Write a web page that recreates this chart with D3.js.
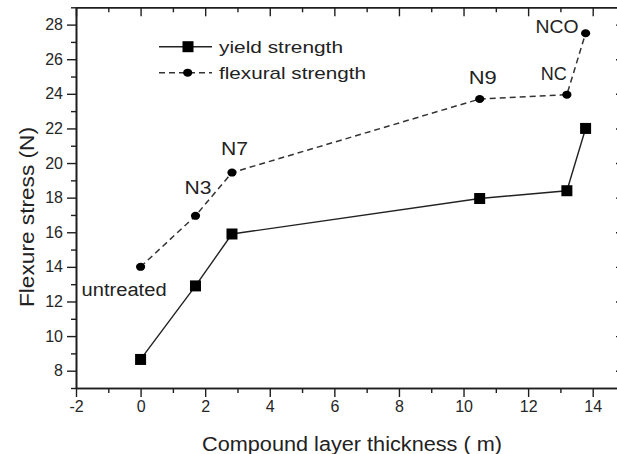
<!DOCTYPE html>
<html>
<head>
<meta charset="utf-8">
<script src="https://cdn.jsdelivr.net/npm/d3@7"></script>
<style>
body { margin: 0; background: #fff; }
svg { display: block; font-family: Arial, "Liberation Sans", sans-serif; }
</style>
</head>
<body>
<svg id="chart" width="617" height="454"></svg>
<script>
// values
var thickness = [0, 1.7, 2.83, 10.5, 13.2, 13.78];
var yieldStrength = [8.65, 12.9, 15.9, 17.95, 18.4, 22.0];
var flexuralStrength = [14.0, 16.95, 19.45, 23.7, 23.95, 27.5];
var sampleNames = ["untreated", "N3", "N7", "N9", "NC", "NCO"];
var xMajor = [-2, 0, 2, 4, 6, 8, 10, 12, 14];
var xMinor = [-1, 1, 3, 5, 7, 9, 11, 13, 15];
var yMajor = [8, 10, 12, 14, 16, 18, 20, 22, 24, 26, 28];
var yMinor = [7, 9, 11, 13, 15, 17, 19, 21, 23, 25, 27, 29];
var seriesNames = ["yield strength", "flexural strength"];

// label placement relative to its point (dx, dy, width)
var labelPlace = [[-59, 29, 85], [-11, -22, 27], [-11, -18, 27], [-11, -15, 28], [-26, -15, 26], [-50, 0, 43]];

var svg = d3.select("#chart");
var L = 76, R = 625, T = 7.3, B = 388;
var x = d3.scaleLinear().domain([-2, 15]).range([L, R]);
var y = d3.scaleLinear().domain([7, 29]).range([B, T]);
var ink = "#1e1e1e";
var plain = function(d) { return String(d); };

function axisStyle(g) {
    g.select(".domain").attr("stroke", ink).attr("stroke-width", 1.6);
    g.selectAll(".tick line").attr("stroke", ink).attr("stroke-width", 1.4);
    g.selectAll(".tick text").attr("fill", "#262626").attr("font-size", 16).attr("font-family", "Arial, 'Liberation Sans', sans-serif");
}

// bottom and left axes, ticks pointing out
svg.append("g").attr("transform", "translate(0," + B + ")")
    .call(d3.axisBottom(x).tickValues(xMinor).tickSize(5).tickSizeOuter(0).tickFormat(""))
    .call(axisStyle);
svg.append("g").attr("transform", "translate(0," + B + ")")
    .call(d3.axisBottom(x).tickValues(xMajor).tickSize(9).tickSizeOuter(0).tickPadding(4).tickFormat(plain))
    .call(axisStyle);
svg.append("g").attr("transform", "translate(" + L + ",0)")
    .call(d3.axisLeft(y).tickValues(yMinor).tickSize(5).tickSizeOuter(0).tickFormat(""))
    .call(axisStyle);
svg.append("g").attr("transform", "translate(" + L + ",0)")
    .call(d3.axisLeft(y).tickValues(yMajor).tickSize(9).tickSizeOuter(0).tickPadding(4).tickFormat(plain))
    .call(axisStyle);

// top and right axes, ticks pointing in
svg.append("g").attr("transform", "translate(0," + T + ")")
    .call(d3.axisTop(x).tickValues(xMinor).tickSize(-5).tickSizeOuter(0).tickFormat(""))
    .call(axisStyle);
svg.append("g").attr("transform", "translate(0," + T + ")")
    .call(d3.axisTop(x).tickValues(xMajor).tickSize(-9).tickSizeOuter(0).tickFormat(""))
    .call(axisStyle);
svg.append("g").attr("transform", "translate(" + R + ",0)")
    .call(d3.axisRight(y).tickValues(yMinor).tickSize(-5).tickSizeOuter(0).tickFormat(""))
    .call(axisStyle);
svg.append("g").attr("transform", "translate(" + R + ",0)")
    .call(d3.axisRight(y).tickValues(yMajor).tickSize(-9).tickSizeOuter(0).tickFormat(""))
    .call(axisStyle);

function stretchText(g, str, px, py, size, width, anchor) {
    return g.append("text").attr("x", px).attr("y", py)
        .attr("font-size", size).attr("fill", "#222")
        .attr("text-anchor", anchor || "start")
        .attr("textLength", width).attr("lengthAdjust", "spacingAndGlyphs")
        .text(str);
}

// axis titles
stretchText(svg, "Compound layer thickness ( m)", 352, 451, 19.5, 300, "middle");
var yt = svg.append("g").attr("transform", "translate(34,217) rotate(-90)");
stretchText(yt, "Flexure stress (N)", 0, 0, 20, 180, "middle");

var line = d3.line().x(function(d) { return x(d[0]); }).y(function(d) { return y(d[1]); });
var yieldPts = d3.zip(thickness, yieldStrength);
var flexPts = d3.zip(thickness, flexuralStrength);

svg.append("path").datum(yieldPts).attr("d", line)
    .attr("fill", "none").attr("stroke", "#222").attr("stroke-width", 1.4);
svg.append("path").datum(flexPts).attr("d", line)
    .attr("fill", "none").attr("stroke", "#333").attr("stroke-width", 1.5)
    .attr("stroke-dasharray", "6,4");

svg.selectAll(".sq").data(yieldPts).enter().append("rect").attr("class", "sq")
    .attr("x", function(d) { return x(d[0]) - 5.5; })
    .attr("y", function(d) { return y(d[1]) - 5.5; })
    .attr("width", 11).attr("height", 11).attr("fill", "#000");
svg.selectAll(".dot").data(flexPts).enter().append("ellipse").attr("class", "dot")
    .attr("cx", function(d) { return x(d[0]); })
    .attr("cy", function(d) { return y(d[1]); })
    .attr("rx", 4.6).attr("ry", 4).attr("fill", "#000");

// sample names next to the flexural points
sampleNames.forEach(function(n, i) {
    var p = labelPlace[i];
    stretchText(svg, n, x(thickness[i]) + p[0], y(flexuralStrength[i]) + p[1], 18, p[2]);
});

// legend
var lg = svg.append("g");
lg.append("line").attr("x1", 159).attr("x2", 212).attr("y1", 46.7).attr("y2", 46.7)
    .attr("stroke", "#222").attr("stroke-width", 1.4);
lg.append("rect").attr("x", 182.5).attr("y", 41.2).attr("width", 11).attr("height", 11).attr("fill", "#000");
lg.append("line").attr("x1", 159).attr("x2", 212).attr("y1", 72.7).attr("y2", 72.7)
    .attr("stroke", "#333").attr("stroke-width", 1.5).attr("stroke-dasharray", "6,4");
lg.append("ellipse").attr("cx", 187.7).attr("cy", 72.7).attr("rx", 4.6).attr("ry", 4).attr("fill", "#000");
stretchText(lg, seriesNames[0], 219, 52.5, 17, 124);
stretchText(lg, seriesNames[1], 219, 78.5, 17, 147);
</script>
</body>
</html>
